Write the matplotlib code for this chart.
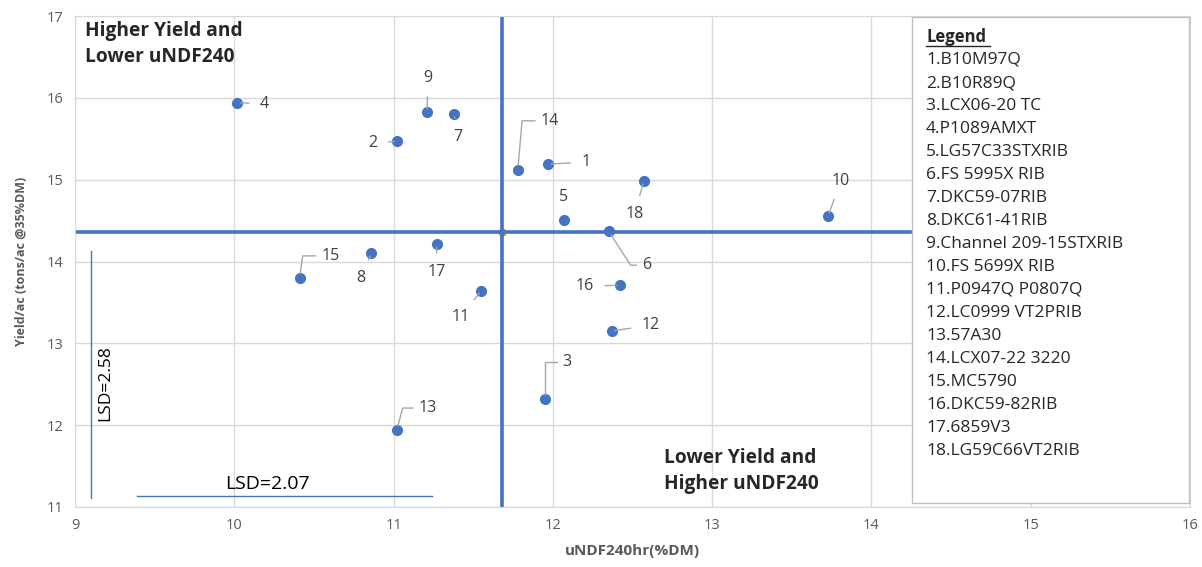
import matplotlib
matplotlib.use('Agg')
import matplotlib.pyplot as plt
from matplotlib.patches import Rectangle
from matplotlib.lines import Line2D

plt.rcParams['font.family'] = ['Open Sans', 'DejaVu Sans']

# data
ids = [1, 2, 3, 4, 5, 6, 7, 8, 9, 10, 11, 12, 13, 14, 15, 16, 17, 18]
undf = [11.97, 11.02, 11.95, 10.02, 12.07, 12.35, 11.38, 10.86, 11.21, 13.73,
        11.55, 12.37, 11.02, 11.78, 10.41, 12.42, 11.27, 12.57]
yld = [15.19, 15.47, 12.32, 15.94, 14.51, 14.37, 15.80, 14.10, 15.83, 14.56,
       13.64, 13.15, 11.94, 15.12, 13.80, 13.71, 14.21, 14.98]
names = ['B10M97Q', 'B10R89Q', 'LCX06-20 TC', 'P1089AMXT', 'LG57C33STXRIB',
         'FS 5995X RIB', 'DKC59-07RIB', 'DKC61-41RIB', 'Channel 209-15STXRIB',
         'FS 5699X RIB', 'P0947Q P0807Q', 'LC0999 VT2PRIB', '57A30',
         'LCX07-22 3220', 'MC5790', 'DKC59-82RIB', '6859V3', 'LG59C66VT2RIB']
mean_x = 11.68
mean_y = 14.36
lsd_x = [9.39, 11.24]   # horizontal LSD bar, at y=11.14
lsd_y = [11.11, 14.13]  # vertical LSD bar, at x=9.10

# label offsets (pixels)
offs = {1: (38, 2), 2: (-24, -2), 3: (22, 37), 4: (27, -1), 5: (0, 23), 6: (38, -34),
        7: (4, -23), 8: (-10, -25), 9: (1, 34), 10: (12, 35), 11: (-21, -26),
        12: (39, 6), 13: (31, 22), 14: (32, 49), 15: (31, 22), 16: (-35, -1),
        17: (0, -28), 18: (-9, -33)}
no_leader = [5]
# leaders with a bend: angle of the segment at the point
elbow = {14: 85, 3: 90, 13: 75, 15: 82, 6: -57}

blue = '#4472C4'
grey = '#595959'

fig = plt.figure(figsize=(12.02, 5.67), dpi=100)
ax = fig.add_axes([75 / 1202, 1 - 507 / 567, 1115 / 1202, 491 / 567])

ax.set_xlim(9, 16)
ax.set_ylim(11, 17)
ax.grid(True, color='#d9d9d9', lw=1)
ax.set_axisbelow(True)
for s in ax.spines.values():
    s.set_color('#d9d9d9')
ax.tick_params(length=0, colors=grey, labelsize=10.5, pad=8)

ax.axhline(mean_y, color=blue, lw=2.6, zorder=2)
ax.axvline(mean_x, color=blue, lw=2.6, zorder=2)
ax.plot([mean_x], [mean_y], 'o', color='#ED7D31', ms=5, zorder=1)

ax.plot(undf, yld, 'o', color=blue, ms=7, zorder=3)

for i, x, y in zip(ids, undf, yld):
    dx, dy = offs[i]
    if i in no_leader:
        ap = None
    elif i in elbow:
        ap = dict(arrowstyle='-', color='#a6a6a6', lw=1, shrinkA=2, shrinkB=3,
                  relpos=(0, 0.5), connectionstyle=f'angle,angleA=0,angleB={elbow[i]},rad=0')
    else:
        ap = dict(arrowstyle='-', color='#a6a6a6', lw=1, shrinkA=6, shrinkB=2)
    ax.annotate(str(i), (x, y), xytext=(dx, dy), textcoords='offset pixels',
                ha='center', va='center', fontsize=11.5, color='#404040',
                arrowprops=ap, zorder=4)

ax.plot(lsd_x, [11.14, 11.14], color=blue, lw=1)
ax.plot([9.10, 9.10], lsd_y, color=blue, lw=1)
ax.text(sum(lsd_x) / 2 - 0.11, 11.17, 'LSD=2.07', ha='center', va='bottom', fontsize=14, color='black')
ax.text(9.14, 12.51, 'LSD=2.58', rotation=90, ha='left', va='center', fontsize=12.5, color='black')

ax.text(9.06, 16.94, 'Higher Yield and\nLower uNDF240', ha='left', va='top', fontsize=13.8,
        fontweight='bold', color='#262626', linespacing=1.4)
ax.text(12.70, 11.72, 'Lower Yield and\nHigher uNDF240', ha='left', va='top', fontsize=13.8,
        fontweight='bold', color='#262626', linespacing=1.4)

ax.set_xlabel('uNDF240hr(%DM)', fontsize=11, fontweight='bold', color=grey, labelpad=8)
ax.set_ylabel('Yield/ac (tons/ac @35%DM)', fontsize=9, fontweight='bold', color=grey, labelpad=14)

# legend box
W, H = 1202, 567
fig.patches.append(Rectangle((912 / W, 1 - 503 / H), 277 / W, 486 / H, transform=fig.transFigure,
                             facecolor='white', edgecolor='#bfbfbf', lw=1, zorder=5))
fig.text(926 / W, 1 - 37 / H, 'Legend', fontsize=12, fontweight='bold', color='#262626',
         va='center', zorder=6)
fig.lines.append(Line2D([926 / W, 990 / W], [1 - 46 / H, 1 - 46 / H], transform=fig.transFigure,
                        color='#262626', lw=1, zorder=6))
for k, n in enumerate(names):
    fig.text(926 / W, 1 - (60 + k * 23.0) / H, f'{ids[k]}.{n}', fontsize=12.5, color='#262626',
             va='center', zorder=6)

fig.savefig('out.png', dpi=100)
